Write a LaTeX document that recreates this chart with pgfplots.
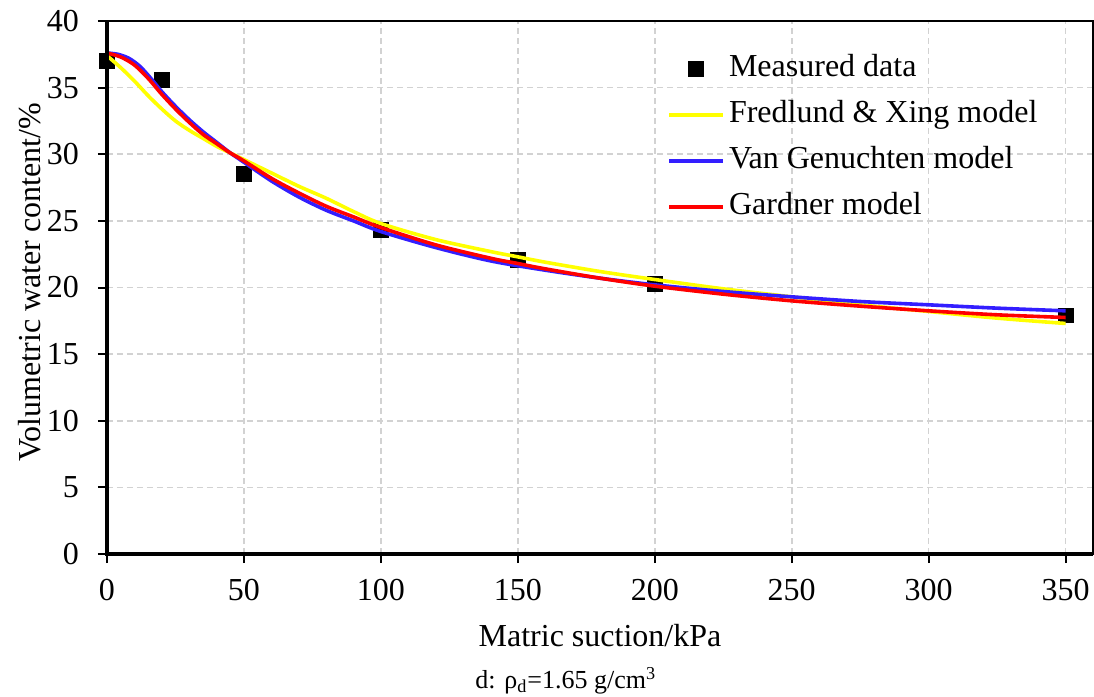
\documentclass[border=0pt]{standalone}
\usepackage{fontspec}
\setmainfont{Liberation Serif}
\usepackage{pgfplots}
\pgfplotsset{compat=1.18}
\definecolor{fxyellow}{RGB}{255,255,0}
\definecolor{vgblue}{RGB}{51,30,255}
\definecolor{gdred}{RGB}{255,0,0}
\definecolor{gridgray}{RGB}{210,210,210}
\pgfplotsset{
  legline/.style={legend image code/.code={\draw[##1] (0pt,0pt) -- (27pt,0pt);}},
  legmark/.style={legend image code/.code={\draw[##1] plot coordinates {(13.5pt,0pt)};}},
}
\begin{document}
\begin{tikzpicture}
\useasboundingbox (-53.5pt,-71.5pt) rectangle (493.5pt,277pt);
\begin{axis}[
  scale only axis,
  width=493pt, height=266.5pt,
  at={(0,0)}, anchor=south west,
  xmin=0, xmax=360, ymin=0, ymax=40,
  xtick={0,50,...,350}, ytick={0,5,...,40},
  axis line style={line width=1pt},
  tick pos=left, tick align=outside,
  major tick length=4.5pt,
  every tick/.style={black, line width=1pt},
  grid=major,
  major grid style={gridgray, line width=0.8pt, dash pattern=on 3pt off 2pt},
  font=\fontsize{16}{19}\selectfont,
  /pgf/number format/assume math mode=true,
  xticklabel style={yshift=-4.5pt},
  yticklabel style={xshift=-6pt},
  xlabel={Matric suction/kPa},
  ylabel={Volumetric water content/\%},
  xlabel style={at={(axis description cs:0.5,0)}, yshift=-46pt, anchor=base},
  ylabel style={at={(axis description cs:-0.078,0.51)}, anchor=center, rotate=0},
  clip mode=individual,
  legend cell align=left,
  legend style={draw=none, fill=none, inner sep=0pt, at={(0.568,0.937)}, anchor=north west,
    row sep=9pt, font=\fontsize{16}{19}\selectfont,
    nodes={inner sep=0pt, text height=11pt, text depth=3pt}, column sep=2pt},
]
\addplot[only marks, mark=square*, mark size=3.7pt, color=black, legmark]
  coordinates {(0,37.0) (20,35.6) (50,28.5) (100,24.3) (150,22.1) (200,20.3) (350,17.9)};
\addlegendentry{Measured data}
\addplot[fxyellow, line width=1.8pt, smooth, no marks, legline]
  coordinates {(0,37.4) (5,36.5) (10,35.5) (15,34.4) (20,33.4) (25,32.5) (30,31.8) (35,31.2) (40,30.6) (45,30.1) (50,29.6) (60,28.6) (70,27.6) (80,26.7) (90,25.7) (100,24.8) (120,23.6) (140,22.7) (150,22.3) (160,21.9) (180,21.2) (200,20.6) (225,19.9) (250,19.3) (275,18.7) (300,18.2) (325,17.7) (350,17.3)};
\addlegendentry{Fredlund \& Xing model}
\addplot[vgblue, line width=1.8pt, smooth, no marks, legline]
  coordinates {(0,37.6) (4,37.5) (8,37.2) (12,36.6) (16,35.7) (20,34.7) (25,33.6) (30,32.6) (35,31.7) (40,30.9) (45,30.1) (50,29.4) (60,28.0) (70,26.8) (80,25.8) (90,25.0) (100,24.2) (120,23.0) (140,22.0) (160,21.3) (180,20.7) (200,20.2) (225,19.7) (250,19.3) (275,18.95) (300,18.7) (325,18.45) (350,18.25)};
\addlegendentry{Van Genuchten model}
\addplot[gdred, line width=1.8pt, smooth, no marks, legline]
  coordinates {(0,37.6) (5,37.3) (10,36.7) (15,35.7) (20,34.5) (25,33.4) (30,32.4) (35,31.5) (40,30.8) (45,30.1) (50,29.5) (60,28.2) (70,27.1) (80,26.1) (90,25.3) (100,24.5) (120,23.2) (140,22.2) (150,21.8) (160,21.4) (180,20.7) (200,20.1) (225,19.5) (250,19.0) (275,18.6) (300,18.25) (325,17.95) (350,17.75)};
\addlegendentry{Gardner model}
\draw[line width=1.7pt] (rel axis cs:0,1) -- (rel axis cs:0,0) -- (rel axis cs:1,0);
\end{axis}
\node[font=\fontsize{13}{15}\selectfont, anchor=base west, inner sep=0pt] at (184pt,-67pt) {d: ρ\textsubscript{d}=1.65 g/cm\textsuperscript{3}};
\end{tikzpicture}
\end{document}
